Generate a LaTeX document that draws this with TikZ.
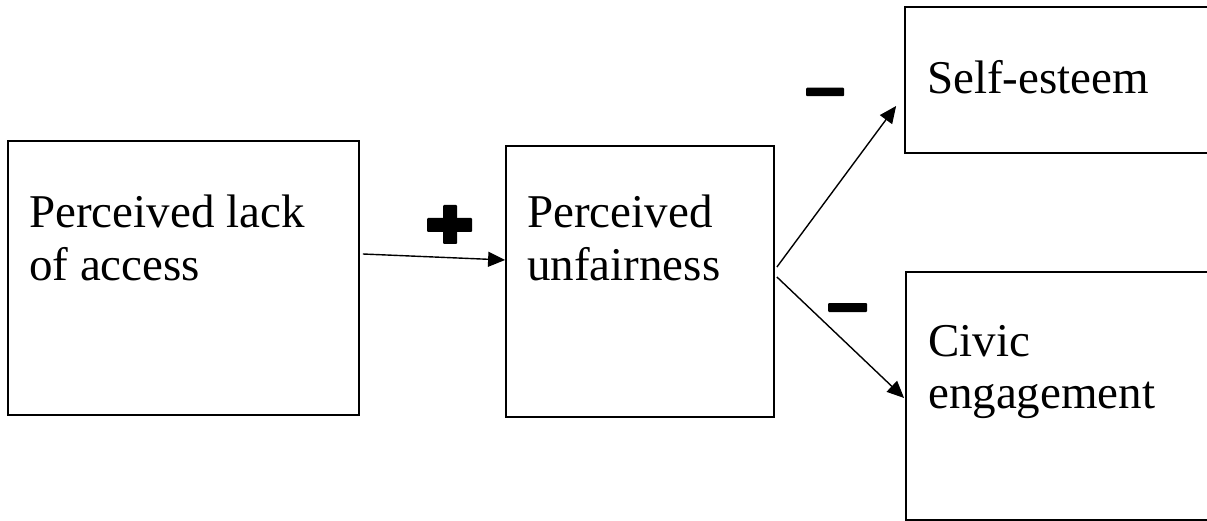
\documentclass[tikz,border=0pt]{standalone}
\usepackage{fontspec}
\setmainfont{Liberation Serif}
\usetikzlibrary{arrows.meta}
\tikzset{
  box/.style={draw=black, line width=1.8pt, rectangle, inner sep=0pt, fill=none},
  label/.style={font=\fontsize{47}{52}\selectfont, anchor=base west, inner sep=0pt, align=left},
  arr/.style={line width=1.4pt, -{Triangle[length=17pt,width=15pt]}},
  bar/.style={fill=black, draw=none, inner sep=0pt, rectangle, rounded corners=1pt},
}
\begin{document}
\begin{tikzpicture}[x=1pt,y=-1pt]
\useasboundingbox (0,0) rectangle (1207,521);
\clip (0,0) rectangle (1207,521);

% boxes
\node[box, minimum width=351pt, minimum height=274pt] (b1) at (183.5,278) {};
\node[box, minimum width=268pt, minimum height=271pt] (b2) at (640,281.5) {};
\node[box, minimum width=330pt, minimum height=146pt] (b3) at (1070,80) {};
\node[box, minimum width=330pt, minimum height=248pt] (b4) at (1071,396) {};

% box texts (base anchor sits on the last line)
\node[label] (t1) at (29,280) {Perceived lack\\of access};
\node[label] (t2) at (527,280) {Perceived\\unfairness};
\node[label] (t3) at (927,94) {Self-esteem};
\node[label] (t4) at (928,408) {Civic\\engagement};

% sign marks
\node[bar, minimum width=45pt, minimum height=14pt] (plush) at (449.5,225) {};
\node[bar, minimum width=14pt, minimum height=39pt] (plusv) at (450,224.5) {};
\node[bar, minimum width=38pt, minimum height=8.5pt] (m1) at (825,92) {};
\node[bar, minimum width=39pt, minimum height=9pt] (m2) at (847.5,307.5) {};

% connectors
\draw[arr] ([xshift=3pt,yshift=24pt]b1.east) -- ([yshift=21.5pt]b2.west);
\draw[arr] ([xshift=2pt,yshift=14.5pt]b2.east) -- ([xshift=-8pt,yshift=-26pt]b3.west);
\draw[arr] ([xshift=2pt,yshift=4.5pt]b2.east) -- ([xshift=-1pt,yshift=-2pt]b4.west);
\end{tikzpicture}
\end{document}
